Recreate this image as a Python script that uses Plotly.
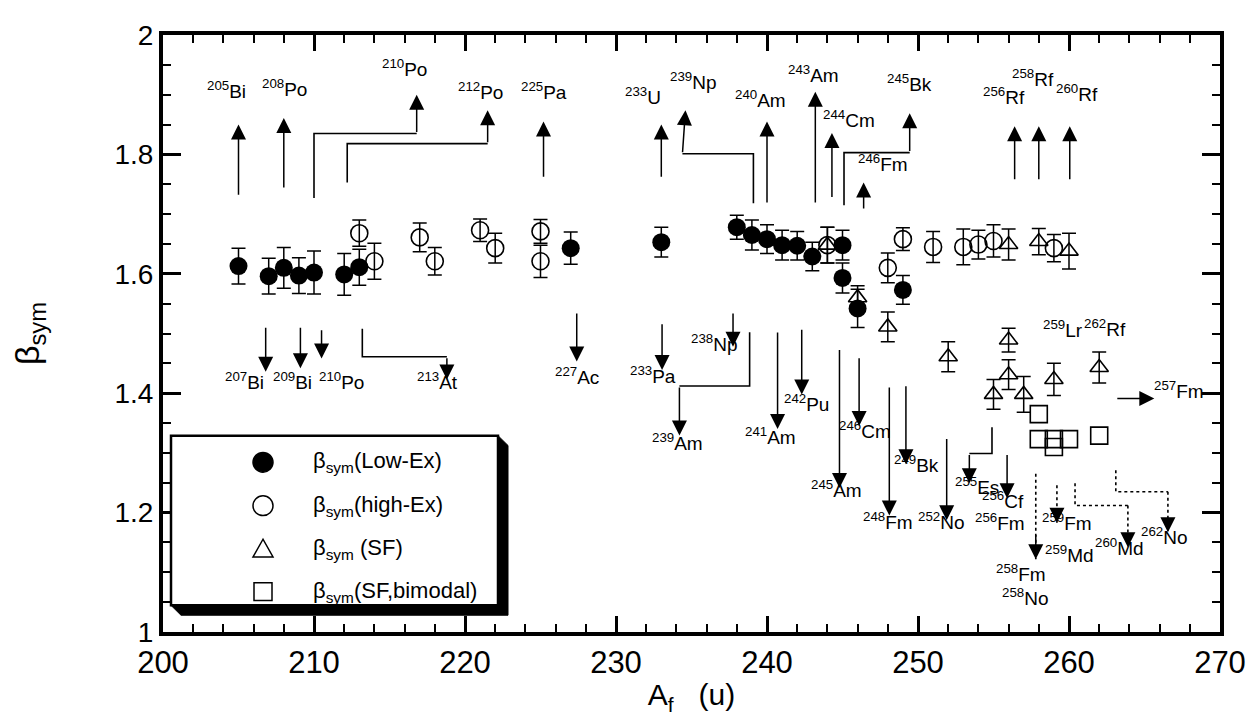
import plotly.graph_objects as go

# ---------------- data ----------------
A_low = [205, 207, 208, 209, 210, 212, 213, 227, 233, 238, 239, 240, 241, 242, 243, 245, 245, 246, 249]
b_low = [1.613, 1.596, 1.610, 1.597, 1.602, 1.599, 1.611, 1.643, 1.653, 1.678, 1.665, 1.658, 1.648, 1.647,
         1.629, 1.648, 1.593, 1.542, 1.573]
e_low = [0.030, 0.030, 0.034, 0.030, 0.036, 0.035, 0.030, 0.027, 0.025, 0.020, 0.025, 0.024, 0.025, 0.024,
         0.024, 0.025, 0.025, 0.032, 0.024]

A_high = [213, 214, 217, 218, 221, 222, 225, 225, 244, 248, 249, 251, 253, 254, 255, 259]
b_high = [1.668, 1.621, 1.661, 1.621, 1.673, 1.643, 1.671, 1.621, 1.648, 1.610, 1.658, 1.645, 1.645,
          1.649, 1.655, 1.643]
e_high = [0.022, 0.030, 0.024, 0.023, 0.019, 0.025, 0.020, 0.027, 0.030, 0.025, 0.019, 0.026, 0.030,
          0.024, 0.027, 0.023]

A_sf = [244, 246, 248, 252, 255, 256, 256, 256, 257, 258, 259, 260, 262]
b_sf = [1.648, 1.560, 1.511, 1.461, 1.398, 1.649, 1.489, 1.431, 1.398, 1.654, 1.423, 1.638, 1.443]
e_sf = [0.030, 0.020, 0.025, 0.025, 0.025, 0.026, 0.020, 0.025, 0.030, 0.022, 0.027, 0.030, 0.026]

A_bi = [258, 258, 259, 259, 260, 262]
b_bi = [1.365, 1.323, 1.323, 1.310, 1.323, 1.329]

# arrow polylines (A, beta) from start to tip; flag = dotted
arrow_paths = [
    ([(205.0, 1.730), (205.0, 1.850)], False),
    ([(208.0, 1.742), (208.0, 1.861)], False),
    ([(210.0, 1.727), (210.0, 1.835), (216.8, 1.835), (216.8, 1.900)], False),
    ([(212.2, 1.753), (212.2, 1.818), (221.5, 1.818), (221.5, 1.874)], False),
    ([(225.2, 1.760), (225.2, 1.855)], False),
    ([(233.0, 1.760), (233.0, 1.850)], False),
    ([(239.1, 1.718), (239.1, 1.801), (234.4, 1.801), (234.6, 1.874)], False),
    ([(240.0, 1.717), (240.0, 1.855)], False),
    ([(243.2, 1.717), (243.2, 1.905)], False),
    ([(244.3, 1.726), (244.3, 1.836)], False),
    ([(245.1, 1.715), (245.1, 1.803), (249.45, 1.803), (249.45, 1.869)], False),
    ([(246.4, 1.707), (246.4, 1.753)], False),
    ([(256.4, 1.756), (256.4, 1.847)], False),
    ([(258.0, 1.756), (258.0, 1.847)], False),
    ([(260.05, 1.756), (260.05, 1.847)], False),
    ([(206.8, 1.512), (206.8, 1.436)], False),
    ([(209.1, 1.512), (209.1, 1.442)], False),
    ([(210.5, 1.508), (210.5, 1.458)], False),
    ([(213.2, 1.508), (213.2, 1.461), (218.8, 1.461), (218.8, 1.423)], False),
    ([(227.4, 1.536), (227.4, 1.453)], False),
    ([(233.05, 1.518), (233.05, 1.439)], False),
    ([(237.75, 1.536), (237.75, 1.478)], False),
    ([(238.85, 1.502), (238.85, 1.412), (234.2, 1.412), (234.2, 1.329)], False),
    ([(240.7, 1.504), (240.7, 1.340)], False),
    ([(242.3, 1.509), (242.3, 1.398)], False),
    ([(244.8, 1.475), (244.8, 1.241)], False),
    ([(246.1, 1.461), (246.1, 1.345)], False),
    ([(248.1, 1.412), (248.1, 1.195)], False),
    ([(249.2, 1.414), (249.2, 1.281)], False),
    ([(251.9, 1.326), (251.9, 1.187)], False),
    ([(254.9, 1.343), (254.9, 1.299), (253.4, 1.299), (253.4, 1.249)], False),
    ([(255.9, 1.299), (255.9, 1.224)], False),
    ([(257.8, 1.265), (257.8, 1.122)], True),
    ([(259.2, 1.246), (259.2, 1.183)], True),
    ([(260.4, 1.249), (260.4, 1.212), (263.9, 1.212), (263.9, 1.142)], True),
    ([(263.1, 1.271), (263.1, 1.235), (266.55, 1.235), (266.55, 1.167)], True),
    ([(263.1, 1.391), (265.65, 1.391)], False),
]

label_text = ["205|Bi", "208|Po", "210|Po", "212|Po", "225|Pa", "233|U", "239|Np", "240|Am", "243|Am",
              "244|Cm", "245|Bk", "246|Fm", "256|Rf", "258|Rf", "260|Rf",
              "207|Bi", "209|Bi", "210|Po", "213|At", "227|Ac", "233|Pa", "238|Np", "239|Am", "241|Am",
              "242|Pu", "245|Am", "246|Cm", "248|Fm", "249|Bk", "252|No", "255|Es", "256|Cf", "256|Fm",
              "258|Fm", "258|No", "259|Fm", "259|Md", "260|Md", "262|No", "257|Fm", "259|Lr", "262|Rf"]
label_A = [204.2, 208.06, 216.0, 221.0, 225.2, 231.8, 235.1, 239.6, 243.1, 245.4, 249.45, 247.7, 255.7,
           257.6, 260.5,
           205.4, 208.6, 211.85, 218.2, 227.4, 232.45, 236.5, 234.1, 240.2, 242.6, 244.6, 246.5, 248.0,
           249.9, 251.55, 253.9, 255.6, 255.4, 256.85, 257.1, 259.9, 260.05, 263.35, 266.3, 267.3,
           259.6, 262.4]
label_b = [1.908, 1.912, 1.945, 1.906, 1.906, 1.898, 1.923, 1.892, 1.934, 1.859, 1.920, 1.785, 1.898,
           1.928, 1.903,
           1.420, 1.420, 1.420, 1.421, 1.429, 1.431, 1.484, 1.319, 1.329, 1.384, 1.239, 1.338, 1.186,
           1.281, 1.186, 1.245, 1.221, 1.185, 1.098, 1.059, 1.184, 1.131, 1.142, 1.160, 1.405,
           1.507, 1.509]

legend_names = ["β<sub>sym</sub>(Low-Ex)", "β<sub>sym</sub>(high-Ex)", "β<sub>sym</sub> (SF)",
                "β<sub>sym</sub>(SF,bimodal)"]

# ---------------- figure ----------------
FONT = "Liberation Sans, Arial, Helvetica, sans-serif"
L, R, T, B = 155, 1212, 19, 624
W, H = 1259, 717

def px(p):
    return (p - L) / (R - L)

def py(p):
    return (B - p) / (B - T)

fig = go.Figure()
eb = dict(type="data", color="black", thickness=1.5, width=7)

fig.add_trace(go.Scatter(x=A_low, y=b_low, mode="markers",
                         marker=dict(symbol="circle", size=18, color="black"),
                         error_y=dict(array=e_low, **eb), showlegend=False))
fig.add_trace(go.Scatter(x=A_high, y=b_high, mode="markers",
                         marker=dict(symbol="circle-open", size=17, color="black", line=dict(width=1.6)),
                         error_y=dict(array=e_high, **eb), showlegend=False))
fig.add_trace(go.Scatter(x=A_sf, y=b_sf, mode="markers",
                         marker=dict(symbol="triangle-up-open", size=16, color="black", line=dict(width=1.6)),
                         error_y=dict(array=e_sf, **eb), showlegend=False))
fig.add_trace(go.Scatter(x=A_bi, y=b_bi, mode="markers",
                         marker=dict(symbol="square-open", size=17, color="black", line=dict(width=1.6)),
                         showlegend=False))

shapes = []
annotations = []
HEAD = dict(showarrow=True, arrowhead=2, arrowsize=2.0, arrowwidth=1.5, arrowcolor="black")
for pts, dotted in arrow_paths:
    dash = "dot" if dotted else "solid"
    if len(pts) > 2:
        path = "M " + " L ".join(f"{a},{b}" for a, b in pts[:-1])
        shapes.append(dict(type="path", xref="x", yref="y", path=path,
                           line=dict(color="black", width=1.6, dash=dash)))
    (a0, b0), (a1, b1) = pts[-2], pts[-1]
    if dotted:
        shapes.append(dict(type="line", xref="x", yref="y", x0=a0, y0=b0, x1=a1, y1=b1,
                           line=dict(color="black", width=1.6, dash="dot")))
        a0s = a1 + (a0 - a1) * 0.3
        b0s = b1 + (b0 - b1) * 0.3
        annotations.append(dict(x=a1, y=b1, ax=a0s, ay=b0s, xref="x", yref="y", axref="x", ayref="y",
                                text="", **HEAD))
    else:
        annotations.append(dict(x=a1, y=b1, ax=a0, ay=b0, xref="x", yref="y", axref="x", ayref="y",
                                text="", **HEAD))

for t, a, b in zip(label_text, label_A, label_b):
    mass, el = t.split("|")
    annotations.append(dict(x=a, y=b, xref="x", yref="y", text=f"<sup>{mass}</sup>{el}",
                            showarrow=False, font=dict(family=FONT, size=19, color="black"),
                            xanchor="center", yanchor="middle"))

# ---- legend box (manual, with drop shadow) ----
LL, LT, LR, LB, d = 163, 425, 490, 597, 10
shadow = [(LR, LT), (LR + d, LT + d), (LR + d, LB + d), (LL + d, LB + d), (LL, LB), (LR, LB)]
shapes.append(dict(type="path", xref="paper", yref="paper",
                   path="M " + " L ".join(f"{px(a)},{py(b)}" for a, b in shadow) + " Z",
                   fillcolor="black", line=dict(color="black", width=1)))
shapes.append(dict(type="rect", xref="paper", yref="paper", x0=px(LL), x1=px(LR), y0=py(LB), y1=py(LT),
                   fillcolor="white", line=dict(color="black", width=2.5)))
rows = [452, 496, 540, 583]
sx = 255
r = 10
shapes.append(dict(type="circle", xref="paper", yref="paper", x0=px(sx - r), x1=px(sx + r),
                   y0=py(rows[0] + r), y1=py(rows[0] - r), fillcolor="black", line=dict(color="black", width=1.5)))
shapes.append(dict(type="circle", xref="paper", yref="paper", x0=px(sx - r), x1=px(sx + r),
                   y0=py(rows[1] + r), y1=py(rows[1] - r), line=dict(color="black", width=1.5)))
tri = [(sx, rows[2] - 10), (sx - 10, rows[2] + 8), (sx + 10, rows[2] + 8)]
shapes.append(dict(type="path", xref="paper", yref="paper",
                   path="M " + " L ".join(f"{px(a)},{py(b)}" for a, b in tri) + " Z",
                   line=dict(color="black", width=1.5)))
shapes.append(dict(type="rect", xref="paper", yref="paper", x0=px(sx - 9), x1=px(sx + 9),
                   y0=py(rows[3] + 9), y1=py(rows[3] - 9), line=dict(color="black", width=1.5)))
for name, yy in zip(legend_names, rows):
    annotations.append(dict(x=px(303), y=py(yy), xref="paper", yref="paper", text=name, showarrow=False,
                            xanchor="left", yanchor="middle", font=dict(family=FONT, size=22, color="black")))

axis_common = dict(showline=True, linewidth=4, linecolor="black", mirror="allticks", ticks="inside",
                   tickcolor="black", tickwidth=2.5, showgrid=False, zeroline=False)

fig.update_layout(
    width=W, height=H,
    margin=dict(l=L, r=W - R, t=T, b=H - B),
    paper_bgcolor="white", plot_bgcolor="white",
    font=dict(family=FONT, color="black"),
    showlegend=False,
    xaxis=dict(range=[200, 270], dtick=10, tick0=200, ticklen=16,
               minor=dict(dtick=2, ticklen=8, ticks="inside", tickwidth=2, tickcolor="black"),
               tickfont=dict(family=FONT, size=31),
               title=dict(text="A<sub>f</sub>   (u)", font=dict(family=FONT, size=30), standoff=6),
               **axis_common),
    yaxis=dict(range=[1, 2], dtick=0.2, tick0=1, ticklen=18, tickformat="~g",
               minor=dict(dtick=0.05, ticklen=8, ticks="inside", tickwidth=2, tickcolor="black"),
               tickfont=dict(family=FONT, size=28),
               title=dict(text="β<sub>sym</sub>", font=dict(family=FONT, size=34), standoff=68),
               **axis_common),
    shapes=shapes,
    annotations=annotations,
)

fig.write_html("out.html")
